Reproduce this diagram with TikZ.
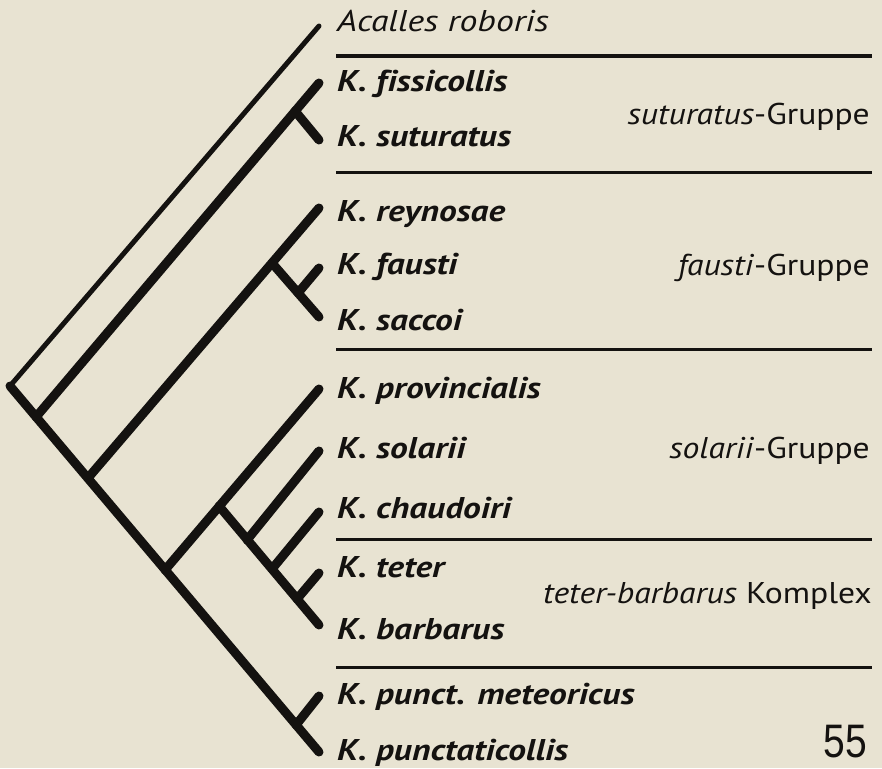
\documentclass[tikz,border=0pt]{standalone}
\usepackage{fontspec}
\setmainfont[Ligatures=NoCommon]{PT Sans}
\newfontfamily\numfont{Liberation Sans}
\definecolor{bg}{RGB}{232,227,210}
\definecolor{ink}{RGB}{20,18,16}
\begin{document}
\begin{tikzpicture}[x=1pt,y=-1pt,
  branch/.style={line width=9pt, line cap=round, draw=ink},
  thinbranch/.style={line width=5pt, line cap=round, draw=ink},
  sep/.style={line width=3pt, draw=ink},
  sp/.style={anchor=base west, inner sep=0pt, xscale=1.18, font=\fontsize{30}{32}\selectfont\bfseries\itshape, text=ink},
  grp/.style={anchor=base east, inner sep=0pt, xscale=1.12, font=\fontsize{30}{32}\selectfont, text=ink}]
\fill[bg] (0,0) rectangle (882,768);
\useasboundingbox (0,0) rectangle (882,768);
% tree coordinates
\coordinate (R) at (10,386);
\coordinate (P) at (319,752);
\coordinate (N1) at (36,417);
\coordinate (N2) at (88,478);
\coordinate (N3) at (165,570);
\coordinate (N4) at (296,725);
\coordinate (A) at (319,26);
\coordinate (F) at (319,83);
\coordinate (J1) at (295,111);
\coordinate (S) at (319,140);
\coordinate (Rey) at (319,208);
\coordinate (J2) at (272,263);
\coordinate (Sac) at (319,317);
\coordinate (J2b) at (298,293);
\coordinate (Fau) at (319,268);
\coordinate (Prov) at (319,389);
\coordinate (J3) at (219,506);
\coordinate (Bar) at (319,625);
\coordinate (Js) at (247,540);
\coordinate (Sol) at (319,451);
\coordinate (Jc) at (272,569);
\coordinate (Cha) at (319,512);
\coordinate (Jt) at (297,599);
\coordinate (Tet) at (319,573);
\coordinate (Met) at (319,696);
% branches
\draw[thinbranch] (R) -- (A);
\draw[branch] (R) -- (P);
\draw[branch] (N1) -- (F);
\draw[branch] (J1) -- (S);
\draw[branch] (N2) -- (Rey);
\draw[branch] (J2) -- (Sac);
\draw[branch] (J2b) -- (Fau);
\draw[branch] (N3) -- (Prov);
\draw[branch] (J3) -- (Bar);
\draw[branch] (Js) -- (Sol);
\draw[branch] (Jc) -- (Cha);
\draw[branch] (Jt) -- (Tet);
\draw[branch] (N4) -- (Met);
% separators
\coordinate (r1a) at (336,56); \coordinate (r1b) at (872,56);
\coordinate (r2a) at (336,172); \coordinate (r2b) at (872,172);
\coordinate (r3a) at (336,349); \coordinate (r3b) at (872,349);
\coordinate (r4a) at (336,539); \coordinate (r4b) at (872,539);
\coordinate (r5a) at (336,667); \coordinate (r5b) at (872,667);
\draw[sep] (r1a) -- (r1b);
\draw[sep] (r2a) -- (r2b);
\draw[sep] (r3a) -- (r3b);
\draw[sep] (r4a) -- (r4b);
\draw[sep] (r5a) -- (r5b);
% species labels
\node[sp, xscale=1.19/1.18, font=\fontsize{30}{32}\selectfont\itshape] (tA) at (337,32) {Acalles roboris};
\node[sp] (tF) at (337,91) {K. fissicollis};
\node[sp] (tS) at (337,146) {K. suturatus};
\node[sp] (tRey) at (337,221) {K. reynosae};
\node[sp] (tFau) at (337,274) {K. fausti};
\node[sp] (tSac) at (337,330) {K. saccoi};
\node[sp] (tProv) at (337,398) {K. provincialis};
\node[sp] (tSol) at (337,458) {K. solarii};
\node[sp] (tCha) at (337,518) {K. chaudoiri};
\node[sp] (tTet) at (337,577) {K. teter};
\node[sp] (tBar) at (337,639) {K. barbarus};
\node[sp] (tMet) at (337,704) {K. punct. meteoricus};
\node[sp] (tP) at (337,760) {K. punctaticollis};
% group labels
\node[grp] (g1) at (870,124) {\textit{suturatus}-Gruppe};
\node[grp] (g2) at (870,275) {\textit{fausti}-Gruppe};
\node[grp] (g3) at (870,458) {\textit{solarii}-Gruppe};
\node[grp] (g4) at (872,603) {\textit{teter-barbarus} Komplex};
\node[anchor=base east, inner sep=0pt, text=ink, font=\numfont\fontsize{47}{50}\selectfont, xscale=0.83] (pg) at (867,757) {55};
\end{tikzpicture}
\end{document}
